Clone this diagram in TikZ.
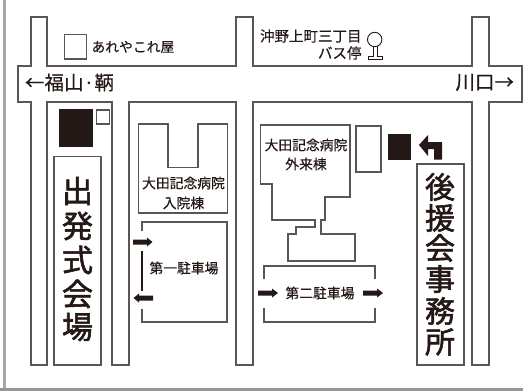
\documentclass[tikz,border=0pt]{standalone}
\usepackage{fontspec}
\setmainfont{Noto Sans CJK JP}
\newfontfamily\smallf[FakeBold=0.3]{Noto Sans CJK JP}
\newfontfamily\bigf[FakeBold=1.8]{Noto Sans CJK JP}
\definecolor{ink}{HTML}{231815}
\definecolor{wall}{HTML}{5A5654}
\definecolor{frame}{HTML}{A5A7A9}
\tikzset{
  x=1pt,y=-1pt,
  wallline/.style={draw=wall,line width=1.1pt,line join=miter},
  boxnode/.style={wallline,rectangle,inner sep=0pt,outer sep=0pt,anchor=north west},
  solidnode/.style={fill=ink,draw=none,rectangle,inner sep=0pt,outer sep=0pt,anchor=north west},
  txt/.style={text=ink,inner sep=0pt,outer sep=0pt,font=\smallf\fontsize{13.8}{16}\selectfont},
  bustxt/.style={text=ink,inner sep=0pt,outer sep=0pt,font=\smallf\fontsize{14.5}{16}\selectfont},
  roadtxt/.style={text=ink,inner sep=0pt,outer sep=0pt,font=\smallf\fontsize{19.5}{21}\selectfont},
  bigtxt/.style={text=ink,inner sep=0pt,outer sep=0pt,font=\bigf\fontsize{31}{34}\selectfont},
  bigtxtb/.style={text=ink,inner sep=0pt,outer sep=0pt,font=\bigf\fontsize{30}{32}\selectfont},
  fat/.style={fill=ink,draw=none},
}
\newcommand{\boxat}[5]{\node[boxnode,minimum width=#4pt,minimum height=#5pt] (#1) at (#2,#3) {};}
\begin{document}
\begin{tikzpicture}
\useasboundingbox (0,0) rectangle (523,391);
\fill[white] (0,0) rectangle (523,391);
% frame
\fill[frame] (3.3,0) rectangle (5.7,391);
\fill[frame!90!black] (0,388) rectangle (523,391);
% roads
\draw[wallline] (31,66)--(31,17)--(47,17)--(47,66)--(236,66)--(236,17)--(253,17)--(253,66)--(472,66)--(472,17)--(489,17)--(489,66)--(522,66)--(522,102)--(489,102)--(489,365)--(472,365)--(472,102)--(253,102)--(253,365)--(236,365)--(236,102)--(129,102)--(129,365)--(112,365)--(112,102)--(47,102)--(47,365)--(31,365)--(31,102)--(18,102)--(18,66)--cycle;
% top left landmark
\boxat{shop}{64.5}{34.5}{22}{24.5}
\node[txt,anchor=west] (shoplabel) at (91.5,47) {あれやこれ屋};
% road labels
\node[roadtxt,anchor=west] (west) at (25,82.5) {←福山·鞆};
\node[roadtxt,anchor=east] (east) at (514,82.5) {川口→};
% bus stop
\node[bustxt,anchor=east] (bus1) at (361.5,36) {沖野上町三丁目};
\node[bustxt,anchor=east] (bus2) at (361.5,53) {バス停};
\draw[wallline,draw=ink,line width=0.9pt,fill=white] (373,46)--(373,56)--(368,56)--(368,59.5)--(382,59.5)--(382,56)--(377,56)--(377,46);
\draw[draw=ink,line width=0.9pt,fill=white] (374.7,39.5) circle (7.2);
% departure hall
\node[solidnode,minimum width=34pt,minimum height=38pt] (hall) at (59,109) {};
\boxat{hallbox}{96.5}{110}{13}{14}
\boxat{hallsign}{54}{156.5}{47}{208.5}
\node[bigtxt] (h1) at (77.5,191) {出};
\node[bigtxt] (h2) at (77.5,226) {発};
\node[bigtxt] (h3) at (77.5,260) {式};
\node[bigtxt] (h4) at (77.5,294) {会};
\node[bigtxt] (h5) at (77.5,327) {場};
% inpatient
\draw[wallline] (138.5,124)--(168,124)--(168,167.5)--(198,167.5)--(198,124)--(227.5,124)--(227.5,213)--(138.5,213)--cycle;
\node[txt] (in1) at (183.5,183) {大田記念病院};
\node[txt] (in2) at (183.5,203) {入院棟};
% parking 1
\draw[wallline] (142,231)--(142,222)--(227,222)--(227,322)--(142,322)--(142,309);
\draw[draw=ink,line width=1.3pt] (142,251)--(142,291);
\node[txt] (p1) at (184,268) {第一駐車場};
\fill[fat] (133,239.5)--(147,239.5)--(147,237.5)--(152.5,242)--(147,246.5)--(147,244.5)--(133,244.5)--cycle;
\fill[fat] (153,295.5)--(139,295.5)--(139,293.5)--(133.5,298)--(139,302.5)--(139,300.5)--(153,300.5)--cycle;
% outpatient
\draw[wallline] (260.5,125)--(350,125)--(350,197)--(325,197)--(325,220)--(321,220)--(321,234)--(355,234)--(355,261)--(288,261)--(288,234)--(296,234)--(296,227)--(315,227)--(315,220)--(272,220)--(272,184)--(260.5,184)--cycle;
\node[txt] (out1) at (306,145) {大田記念病院};
\node[txt] (out2) at (306,164) {外来棟};
% office side
\boxat{sidebox}{356}{126}{25}{46}
\node[solidnode,minimum width=23pt,minimum height=26pt] (office) at (388,134) {};
\fill[fat] (419,145)--(428,135)--(428,142)--(442,142)--(442,159.5)--(434,159.5)--(434,149)--(428,149)--(428,156)--cycle;
\boxat{officesign}{417}{164}{47}{201}
\node[bigtxtb] (o1) at (440,187) {後};
\node[bigtxtb] (o2) at (440,218) {援};
\node[bigtxtb] (o3) at (440,248) {会};
\node[bigtxtb] (o4) at (440,279) {事};
\node[bigtxtb] (o5) at (440,311) {務};
\node[bigtxtb] (o6) at (440,342) {所};
% parking 2
\draw[wallline] (264,279)--(264,266)--(375,266)--(375,279);
\draw[wallline] (264,308)--(264,322)--(375,322)--(375,308);
\node[txt] (p2) at (320,293) {第二駐車場};
\fill[fat] (258,290.5)--(272,290.5)--(272,288.5)--(278,293)--(272,297.5)--(272,295.5)--(258,295.5)--cycle;
\fill[fat] (363,290.5)--(377,290.5)--(377,288.5)--(383,293)--(377,297.5)--(377,295.5)--(363,295.5)--cycle;
\end{tikzpicture}
\end{document}
